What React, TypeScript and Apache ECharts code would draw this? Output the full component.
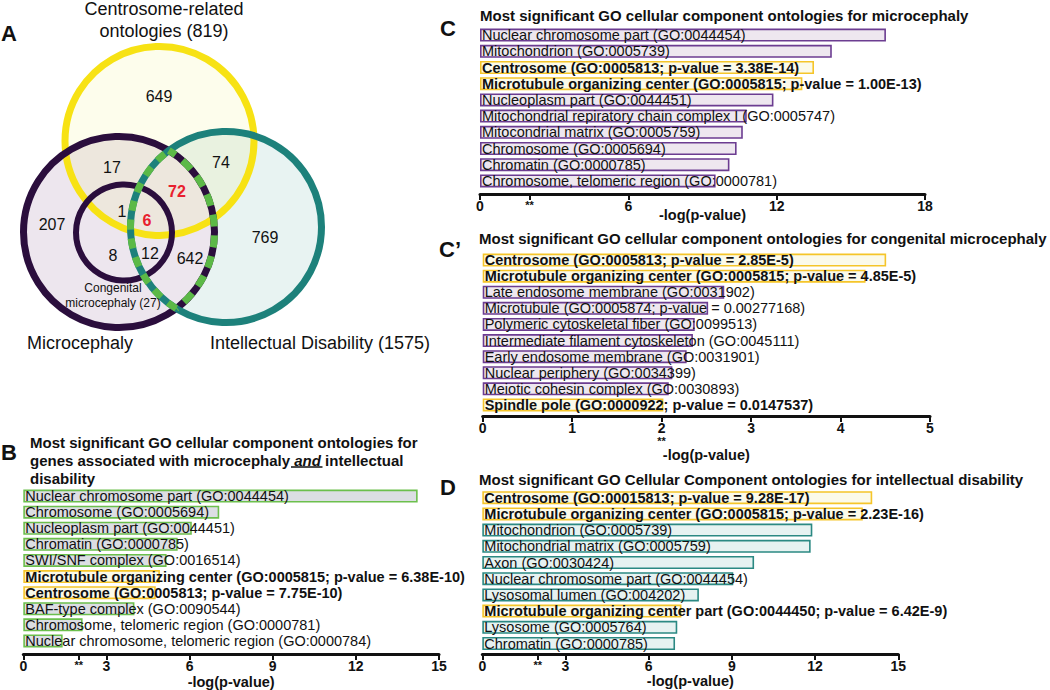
import React, { useEffect, useRef } from 'react';
import * as echarts from 'echarts';

const FONT = '"Liberation Sans", Arial, Helvetica, sans-serif';

// ---------- Panel B: microcephaly AND intellectual disability ----------
const bCategories = [
  'Nuclear chromosome part (GO:0044454)',
  'Chromosome (GO:0005694)',
  'Nucleoplasm part (GO:0044451)',
  'Chromatin (GO:0000785)',
  'SWI/SNF complex (GO:0016514)',
  'Microtubule organizing center (GO:0005815; p-value = 6.38E-10)',
  'Centrosome (GO:0005813; p-value = 7.75E-10)',
  'BAF-type complex (GO:0090544)',
  'Chromosome, telomeric region (GO:0000781)',
  'Nuclear chromosome, telomeric region (GO:0000784)',
];
const bValues = [14.23, 7.07, 6.08, 5.57, 5.17, 4.93, 4.78, 4.01, 2.14, 1.42];
const bHighlight = [false, false, false, false, false, true, true, false, false, false];
const bTicks = [0, 2, 3, 6, 9, 12, 15];

// ---------- Panel C: microcephaly ----------
const cCategories = [
  'Nuclear chromosome part (GO:0044454)',
  'Mitochondrion (GO:0005739)',
  'Centrosome (GO:0005813; p-value = 3.38E-14)',
  'Microtubule organizing center (GO:0005815; p-value = 1.00E-13)',
  'Nucleoplasm part (GO:0044451)',
  'Mitochondrial repiratory chain complex I (GO:0005747)',
  'Mitocondrial matrix (GO:0005759)',
  'Chromosome (GO:0005694)',
  'Chromatin (GO:0000785)',
  'Chromosome, telomeric region (GO:0000781)',
];
const cValues = [16.42, 14.23, 13.51, 13.04, 11.87, 10.79, 10.63, 10.38, 10.09, 9.53];
const cHighlight = [false, false, true, true, false, false, false, false, false, false];
const cTicks = [0, 2, 6, 12, 18];

// ---------- Panel C': congenital microcephaly ----------
const c2Categories = [
  'Centrosome (GO:0005813; p-value = 2.85E-5)',
  'Microtubule organizing center (GO:0005815; p-value = 4.85E-5)',
  'Late endosome membrane (GO:0031902)',
  'Microtubule (GO:0005874; p-value = 0.00277168)',
  'Polymeric cytoskeletal fiber (GO:0099513)',
  'Intermediate filament cytoskeleton (GO:0045111)',
  'Early endosome membrane (GO:0031901)',
  'Nuclear periphery (GO:0034399)',
  'Meiotic cohesin complex (GO:0030893)',
  'Spindle pole (GO:0000922; p-value = 0.0147537)',
];
const c2Values = [4.51, 4.28, 2.70, 2.52, 2.37, 2.35, 2.28, 2.12, 2.08, 2.02];
const c2Highlight = [true, true, false, false, false, false, false, false, false, true];
const c2Ticks = [0, 1, 2, 3, 4, 5];

// ---------- Panel D: intellectual disability ----------
const dCategories = [
  'Centrosome (GO:00015813; p-value = 9.28E-17)',
  'Microtubule organizing center (GO:0005815; p-value = 2.23E-16)',
  'Mitochondrion (GO:0005739)',
  'Mitochondrial matrix (GO:0005759)',
  'Axon (GO:0030424)',
  'Nuclear chromosome part (GO:0044454)',
  'Lysosomal lumen (GO:004202)',
  'Microtubule organizing center part (GO:0044450; p-value = 6.42E-9)',
  'Lysosome (GO:0005764)',
  'Chromatin (GO:0000785)',
];
const dValues = [14.06, 13.72, 11.9, 11.84, 9.8, 9.05, 7.81, 7.18, 7.03, 6.95];
const dHighlight = [true, true, false, false, false, false, false, true, false, false];
const dTicks = [0, 2, 3, 6, 9, 12, 15];

// ---------- Panel A: Venn counts ----------
const vennSets = ['Centrosome-related\nontologies (819)', 'Microcephaly', 'Intellectual Disability (1575)', 'Congenital\nmicrocephaly (27)'];
const vennCounts = ['649', '17', '74', '72', '207', '1', '6', '769', '8', '12', '642'];
const vennRed = [false, false, false, true, false, false, true, false, false, false, false];

const HL_FILL = '#fbfaea';
const HL_BORDER = '#f5c52a';
const INK = '#111111';

type Panel = {
  cats: string[];
  vals: number[];
  hl: boolean[];
  fill: string;
  border: string;
  left: number;
  top: number;
  width: number;
  height: number;
  offset: number;
  max: number;
  interval: number;
  ticks: number[];
  starBelow: boolean;
  nameGap: number;
};

const panels: Panel[] = [
  { cats: bCategories, vals: bValues, hl: bHighlight, fill: '#dcdee3', border: '#6cbf4d',
    left: 23.3, top: 488, width: 415.7, height: 162, offset: 5, max: 15, interval: 3, ticks: bTicks, starBelow: false, nameGap: 20 },
  { cats: cCategories, vals: cValues, hl: cHighlight, fill: '#eee7ef', border: '#6c3d91',
    left: 480, top: 27, width: 445, height: 162, offset: 5, max: 18, interval: 6, ticks: cTicks, starBelow: false, nameGap: 13 },
  { cats: c2Categories, vals: c2Values, hl: c2Highlight, fill: '#eee7ef', border: '#6c3d91',
    left: 482.7, top: 252, width: 447.3, height: 161, offset: 3, max: 5, interval: 1, ticks: c2Ticks, starBelow: true, nameGap: 31 },
  { cats: dCategories, vals: dValues, hl: dHighlight, fill: '#e6f2f1', border: '#2b8983',
    left: 482.3, top: 489.6, width: 416, height: 162, offset: 2.5, max: 15, interval: 3, ticks: dTicks, starBelow: false, nameGap: 19 },
];

type C = { x: number; y: number; r: number };
const cYellow: C = { x: 159.5, y: 141, r: 94.5 };
const cPurple: C = { x: 119, y: 232, r: 95.5 };
const cTeal: C = { x: 226, y: 227, r: 95.5 };
const cInner: C = { x: 124, y: 232.5, r: 48 };

function arcInside(a: C, b: C) {
  const dx = b.x - a.x;
  const dy = b.y - a.y;
  const d = Math.sqrt(dx * dx + dy * dy);
  const phi = Math.atan2(dy, dx);
  const alpha = Math.acos((d * d + a.r * a.r - b.r * b.r) / (2 * d * a.r));
  return { cx: a.x, cy: a.y, r: a.r, startAngle: phi - alpha, endAngle: phi + alpha, clockwise: true };
}

function txt(x: number, y: number, text: string, size: number, opts: any = {}) {
  return {
    type: 'text',
    x,
    y,
    z: 10,
    style: {
      text,
      fontSize: size,
      fontFamily: FONT,
      fontWeight: opts.bold ? 'bold' : 'normal',
      fill: opts.color || INK,
      align: opts.align || 'center',
      verticalAlign: opts.valign || 'middle',
      lineHeight: opts.lineHeight,
      rich: opts.rich,
    },
  };
}

function buildOption() {
  const grid: any[] = [];
  const xAxis: any[] = [];
  const yAxis: any[] = [];
  const series: any[] = [];

  panels.forEach((p, i) => {
    grid.push({ left: p.left, top: p.top, width: p.width, height: p.height, containLabel: false });
    xAxis.push({
      gridIndex: i,
      type: 'value',
      min: 0,
      max: p.max,
      interval: p.interval,
      offset: p.offset,
      splitLine: { show: false },
      axisLine: { show: true, lineStyle: { color: INK, width: 3 } },
      axisTick: { show: true, length: 6, customValues: p.ticks, lineStyle: { color: INK, width: 2 } },
      axisLabel: {
        customValues: p.ticks,
        margin: 5,
        color: INK,
        fontSize: 14,
        fontWeight: 'bold',
        fontFamily: FONT,
        formatter: (v: number) => {
          if (v === 2 && !p.starBelow) return '{s|**}';
          if (v === 2 && p.starBelow) return '{n|2}\n{s|**}';
          return String(v);
        },
        rich: {
          n: { fontSize: 14, fontWeight: 'bold', fontFamily: FONT, color: INK, lineHeight: 14 },
          s: { fontSize: 11, fontWeight: 'bold', fontFamily: FONT, color: INK, lineHeight: 11 },
        },
      },
      name: '-log(p-value)',
      nameLocation: 'middle',
      nameGap: p.nameGap,
      nameMoveOverlap: false,
      nameTextStyle: { color: INK, fontSize: 14.5, fontWeight: 'bold', fontFamily: FONT },
    });
    yAxis.push({ gridIndex: i, type: 'category', data: p.cats, inverse: true, show: false });
    series.push({
      type: 'bar',
      xAxisIndex: i,
      yAxisIndex: i,
      barWidth: 13,
      data: p.vals.map((v, k) => ({
        value: v,
        itemStyle: {
          color: p.hl[k] ? HL_FILL : p.fill,
          borderColor: p.hl[k] ? HL_BORDER : p.border,
          borderWidth: 1.6,
        },
        label: { fontWeight: p.hl[k] ? 'bold' : 'normal' },
      })),
      label: {
        show: true,
        position: 'insideLeft',
        distance: 2,
        color: INK,
        fontSize: 14.5,
        fontFamily: FONT,
        formatter: (prm: any) => p.cats[prm.dataIndex],
      },
    });
  });

  const arcT = arcInside(cTeal, cPurple);
  const arcP = arcInside(cPurple, cTeal);
  const GREEN = '#5cb947';
  const YELLOW = '#f7e214';
  const PURPLE = '#2b0e3d';
  const TEAL = '#1d817b';

  const circle = (c: C, style: any) => ({ type: 'circle', shape: { cx: c.x, cy: c.y, r: c.r }, style });

  const countPos = [
    [159, 96], [112, 167], [221, 162], [177, 191], [52, 224], [122, 211],
    [147, 220], [265, 237], [113, 255], [150, 253], [190, 258],
  ];

  const elements: any[] = [
    circle(cTeal, { fill: '#e8f3f2' }),
    circle(cPurple, { fill: '#ede6ee' }),
    circle(cYellow, { fill: 'rgba(240,240,110,0.13)' }),
    circle(cYellow, { fill: 'none', stroke: YELLOW, lineWidth: 7 }),
    circle(cPurple, { fill: 'none', stroke: PURPLE, lineWidth: 7 }),
    circle(cInner, { fill: 'none', stroke: PURPLE, lineWidth: 6 }),
    circle(cTeal, { fill: 'none', stroke: TEAL, lineWidth: 7 }),
    { type: 'arc', shape: arcT, style: { fill: 'none', stroke: GREEN, lineWidth: 7, lineDash: [10, 9] } },
    { type: 'arc', shape: arcP, style: { fill: 'none', stroke: GREEN, lineWidth: 7, lineDash: [12, 9], lineDashOffset: 4 } },
    txt(164, 20, vennSets[0], 18, { lineHeight: 22 }),
    txt(80, 343, vennSets[1], 18),
    txt(320, 343, vennSets[2], 18),
    txt(113, 295, vennSets[3], 12, { lineHeight: 15 }),
    ...vennCounts.map((t, k) =>
      txt(countPos[k][0], countPos[k][1], t, 16, vennRed[k] ? { color: '#e8202e', bold: true } : {})
    ),
    // panel letters
    txt(1, 33, 'A', 22, { bold: true, align: 'left' }),
    txt(1, 452, 'B', 22, { bold: true, align: 'left' }),
    txt(440, 28, 'C', 22, { bold: true, align: 'left' }),
    txt(439, 249, 'C\u2019', 22, { bold: true, align: 'left' }),
    txt(440, 487, 'D', 22, { bold: true, align: 'left' }),
    // panel titles
    txt(30, 442, 'Most significant GO cellular component ontologies for', 15, { bold: true, align: 'left' }),
    txt(30, 460, '{b|genes associated with microcephaly }{i|and}{b| intellectual}', 15, {
      bold: true, align: 'left',
      rich: {
        b: { fontSize: 15, fontWeight: 'bold', fontFamily: FONT, fill: INK },
        i: { fontSize: 15, fontWeight: 'bold', fontStyle: 'italic', fontFamily: FONT, fill: INK },
      },
    }),
    txt(30, 478, 'disability', 15, { bold: true, align: 'left' }),
    { type: 'line', shape: { x1: 291, y1: 467, x2: 322.5, y2: 467 }, style: { stroke: INK, lineWidth: 1.5 } },
    txt(480, 15, 'Most significant GO cellular component ontologies for microcephaly', 15, { bold: true, align: 'left' }),
    txt(479, 238, 'Most significant GO cellular component ontologies for congenital microcephaly', 15, { bold: true, align: 'left' }),
    txt(479, 479, 'Most significant GO Cellular Component ontologies for intellectual disability', 15, { bold: true, align: 'left' }),
  ];

  return {
    animation: false,
    backgroundColor: '#ffffff',
    textStyle: { fontFamily: FONT },
    grid,
    xAxis,
    yAxis,
    series,
    graphic: { elements },
  };
}

export default function App() {
  const ref = useRef<HTMLDivElement>(null);
  useEffect(() => {
    if (!ref.current) return;
    const chart = echarts.init(ref.current, undefined, { renderer: 'svg' });
    chart.setOption(buildOption() as any);
    return () => chart.dispose();
  }, []);
  return (
    <div
      ref={ref}
      style={{ position: 'absolute', left: 0, top: 0, width: 1050, height: 690, background: '#fff' }}
    />
  );
}
